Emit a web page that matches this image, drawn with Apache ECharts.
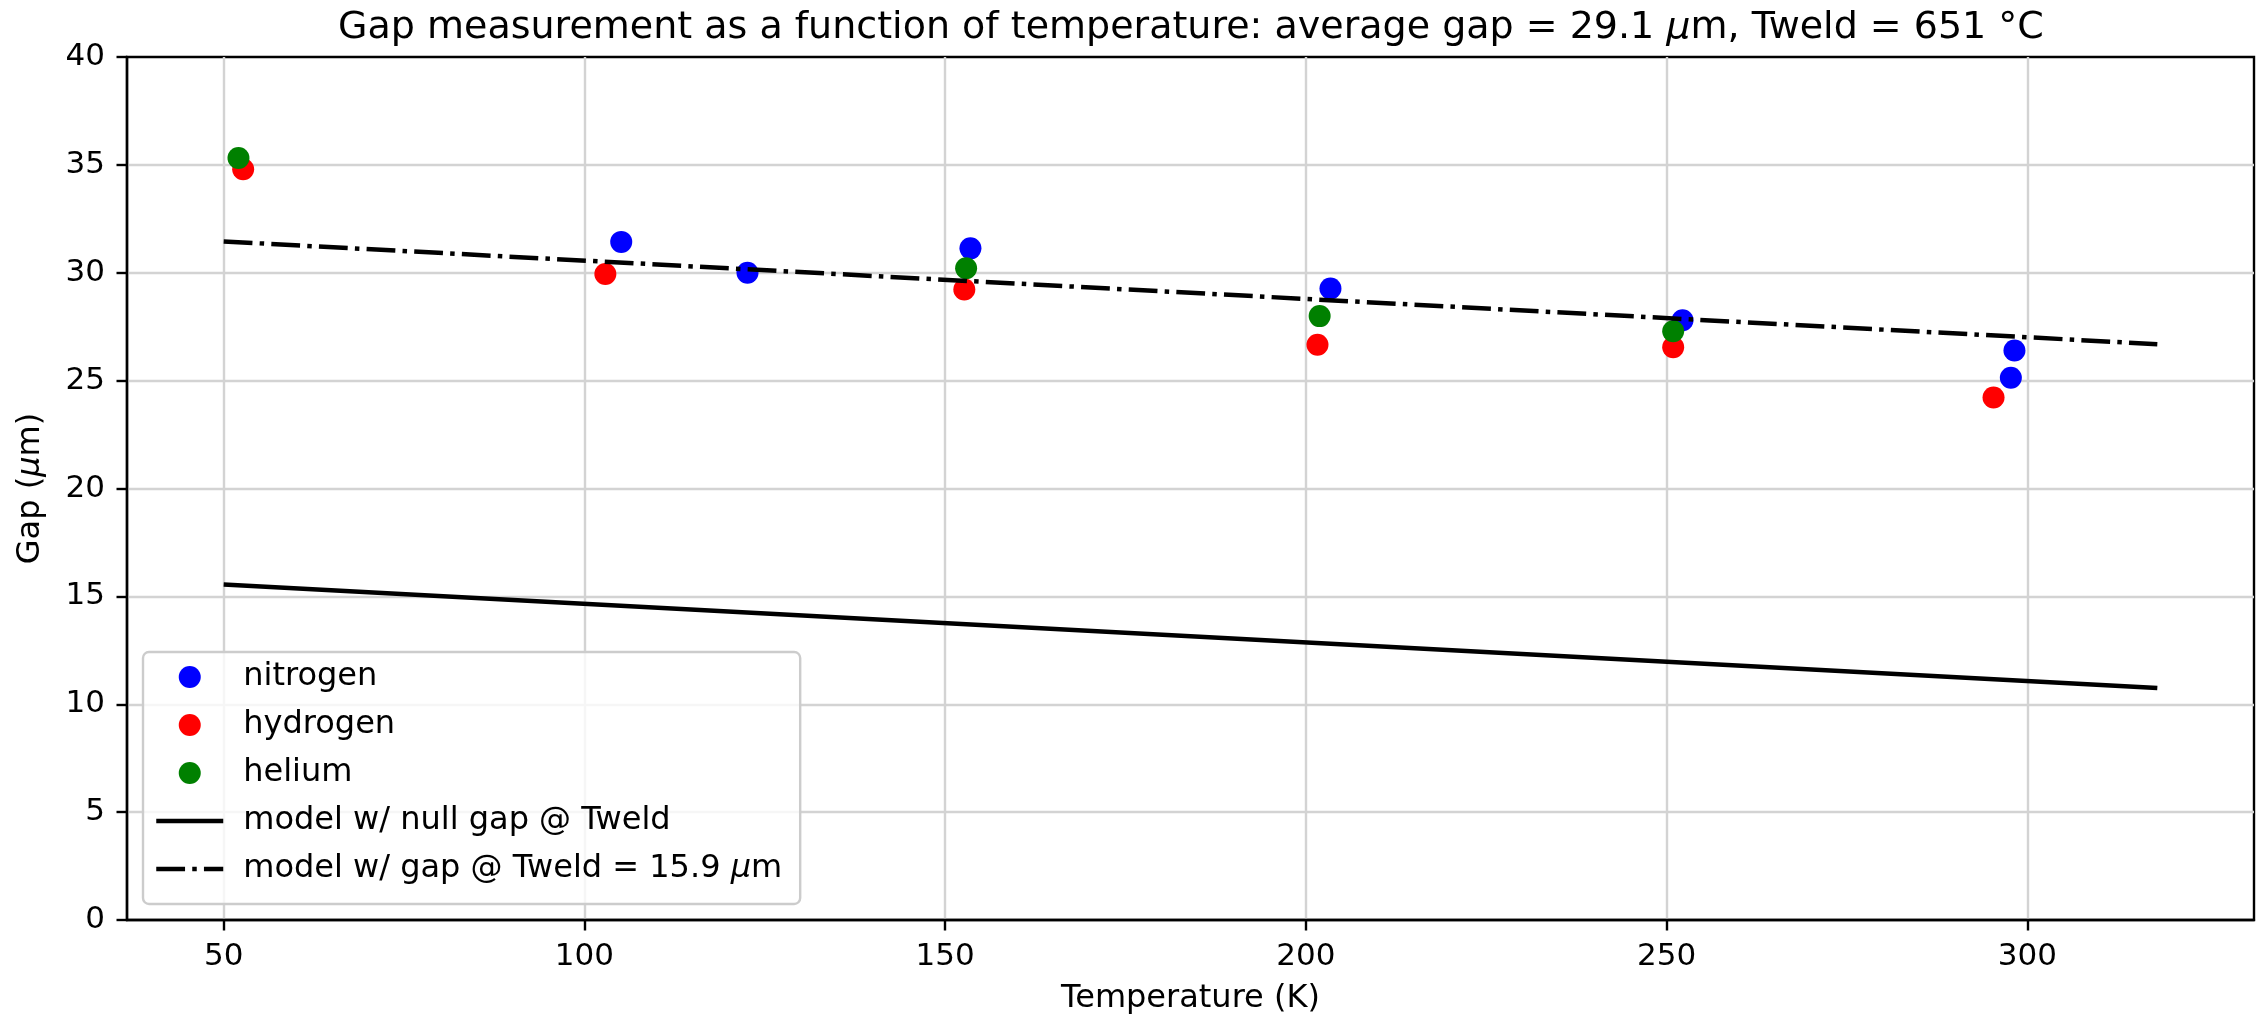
<!DOCTYPE html>
<html>
<head>
<meta charset="utf-8">
<script src="https://cdn.jsdelivr.net/npm/echarts@6/dist/echarts.min.js"></script>
<style>
  html, body { margin: 0; padding: 0; background: #fff; }
  #main { width: 2267px; height: 1021px; }
</style>
</head>
<body>
<div id="main"></div>
<script>
// measured points
var nitrogenT = [105.1, 122.6, 153.5, 203.4, 252.2, 298.2, 297.7];
var nitrogenGap = [31.43, 30.0, 31.13, 29.27, 27.8, 26.4, 25.13];
var hydrogenT = [52.7, 102.9, 152.65, 201.6, 250.9, 295.3];
var hydrogenGap = [34.8, 29.94, 29.22, 26.66, 26.55, 24.22];
var heliumT = [52.05, 152.9, 201.9, 250.9];
var heliumGap = [35.32, 30.21, 27.99, 27.29];

// model lines
var modelT = [50, 318];
var modelNull = [15.55, 10.75];
var modelGapWeld = [31.45, 26.69];

var xTicks = [50, 100, 150, 200, 250, 300];

var FONT = 'DejaVu Sans';

function pairs(xs, ys) {
    return xs.map(function (x, i) { return [x, ys[i]]; });
}

var chart = echarts.init(document.getElementById('main'));

var lw = 4.5;
var dashDot = [28.8, 7.2, 4.5, 7.2];
function italic(size) {
    return { fontStyle: 'italic', fontFamily: FONT, fontSize: size, color: '#000' };
}
// legend entries for the model lines: no marker in the middle of the handle
var noMarker = { color: 'rgba(0,0,0,0)', borderWidth: 0, opacity: 0 };

chart.setOption({
    animation: false,
    backgroundColor: '#fff',
    title: {
        text: 'Gap measurement as a function of temperature: average gap = 29.1 {i|μ}m, Tweld = 651 °C',
        left: 1186,        // centred over the plot area, not the page
        textAlign: 'center',
        top: 4,
        textStyle: {
            fontFamily: FONT,
            fontSize: 38,
            fontWeight: 'normal',
            color: '#000',
            rich: { i: italic(38) }
        }
    },
    grid: {
        left: 127,
        right: 13,
        top: 57,
        bottom: 101,
        show: true,
        borderColor: '#000',
        borderWidth: 2.4,
        backgroundColor: 'transparent'
    },
    legend: {
        orient: 'vertical',
        left: 143,
        top: 652,
        itemWidth: 67,
        itemHeight: 22,
        itemGap: 16,
        padding: [9, 18, 19, 11],
        backgroundColor: 'rgba(255,255,255,0.8)',
        borderColor: '#cccccc',
        borderWidth: 2.4,
        borderRadius: 6,
        formatter: function (name) { return name.replace('μ', '{i|μ}'); },
        textStyle: {
            fontFamily: FONT,
            fontSize: 32,
            color: '#000',
            padding: [0, 0, 0, 15],
            rich: { i: italic(32) }
        },
        data: [
            'nitrogen',
            'hydrogen',
            'helium',
            { name: 'model w/ null gap @ Tweld', itemStyle: noMarker, lineStyle: { color: '#000', width: lw, type: 'solid' } },
            { name: 'model w/ gap @ Tweld = 15.9 μm', itemStyle: noMarker, lineStyle: { color: '#000', width: lw, type: dashDot } }
        ]
    },
    xAxis: {
        type: 'value',
        min: 36.6,
        max: 331.4,
        name: 'Temperature (K)',
        nameLocation: 'middle',
        nameGap: 63,
        nameTextStyle: { fontFamily: FONT, fontSize: 32, color: '#000' },
        axisLine: { show: true, lineStyle: { color: '#000', width: 2.4 } },
        axisTick: {
            show: true, inside: false, length: 10.5,
            lineStyle: { color: '#000', width: 2.4 },
            customValues: xTicks
        },
        axisLabel: {
            fontFamily: FONT, fontSize: 31, color: '#000', margin: 21,
            customValues: xTicks
        },
        splitLine: { show: true, lineStyle: { color: '#d3d3d3', width: 2.4 } }
    },
    yAxis: {
        type: 'value',
        min: 0,
        max: 40,
        interval: 5,
        name: 'Gap ({i|μ}m)',
        nameLocation: 'middle',
        nameGap: 80,
        nameTextStyle: {
            fontFamily: FONT, fontSize: 32, color: '#000',
            rich: { i: italic(32) }
        },
        axisLine: { show: true, lineStyle: { color: '#000', width: 2.4 } },
        axisTick: { show: true, inside: false, length: 10.5, lineStyle: { color: '#000', width: 2.4 } },
        axisLabel: { fontFamily: FONT, fontSize: 31, color: '#000', margin: 22 },
        splitLine: {
            show: true, showMinLine: false, showMaxLine: false,
            lineStyle: { color: '#d3d3d3', width: 2.4 }
        }
    },
    series: [
        {
            name: 'nitrogen',
            type: 'scatter',
            symbol: 'circle',
            symbolSize: 22,
            itemStyle: { color: '#0000ff', opacity: 1 },
            data: pairs(nitrogenT, nitrogenGap)
        },
        {
            name: 'hydrogen',
            type: 'scatter',
            symbol: 'circle',
            symbolSize: 22,
            itemStyle: { color: '#ff0000', opacity: 1 },
            data: pairs(hydrogenT, hydrogenGap)
        },
        {
            name: 'helium',
            type: 'scatter',
            symbol: 'circle',
            symbolSize: 22,
            itemStyle: { color: '#008000', opacity: 1 },
            data: pairs(heliumT, heliumGap)
        },
        {
            name: 'model w/ null gap @ Tweld',
            type: 'line',
            symbol: 'none',
            itemStyle: { color: '#000' },
            lineStyle: { color: '#000', width: lw, type: 'solid' },
            data: pairs(modelT, modelNull)
        },
        {
            name: 'model w/ gap @ Tweld = 15.9 μm',
            type: 'line',
            symbol: 'none',
            itemStyle: { color: '#000' },
            lineStyle: { color: '#000', width: lw, type: dashDot },
            data: pairs(modelT, modelGapWeld)
        }
    ]
});
</script>
</body>
</html>
